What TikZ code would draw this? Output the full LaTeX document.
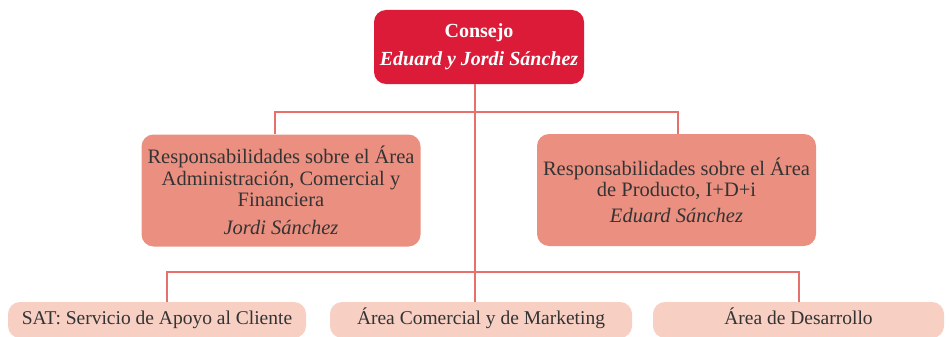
\documentclass[tikz,border=0pt]{standalone}
\usepackage{fontspec}
\setmainfont{Liberation Serif}
\usetikzlibrary{positioning}

\definecolor{consejored}{HTML}{DC1B38}
\definecolor{areasalmon}{HTML}{EB9080}
\definecolor{deptpink}{HTML}{F7CFC3}
\definecolor{linkred}{HTML}{E8706A}
\definecolor{inkgray}{HTML}{333333}

\begin{document}
\begin{tikzpicture}[
    x=1pt,y=-1pt,
    box/.style={rounded corners=12pt,inner sep=0pt,align=center,
        text=inkgray,font=\fontsize{20.5}{21.5}\selectfont},
    topbox/.style={box,fill=consejored,text=white,
        font=\fontsize{20}{28}\selectfont,
        minimum width=210pt,minimum height=74pt},
    areabox/.style={box,fill=areasalmon,
        minimum width=279pt,minimum height=112pt},
    deptbox/.style={box,fill=deptpink,font=\fontsize{19.5}{21.5}\selectfont,
        text height=13pt,text depth=4pt,minimum height=36pt},
    link/.style={linkred,line width=2.5pt}
]
    \clip (0,0) rectangle (950,337);
    \useasboundingbox (0,0) rectangle (950,337);

    \node[topbox] (consejo) at (479,47)
        {\textbf{Consejo}\\\textbf{\itshape Eduard y Jordi Sánchez}};

    \node[areabox] (admin) at (281,190.5)
        {Responsabilidades sobre el Área\\Administración, Comercial y\\Financiera\\[6pt]\itshape Jordi Sánchez};
    \node[areabox] (producto) at (676.5,190)
        {Responsabilidades sobre el Área\\de Producto, I+D+i\\[4pt]\itshape Eduard Sánchez};

    \node[deptbox,minimum width=298pt] (sat) at (157,320) {SAT: Servicio de Apoyo al Cliente};
    \node[deptbox,minimum width=302pt] (comercial) at (481,320) {Área Comercial y de Marketing};
    \node[deptbox,minimum width=291pt] (desarrollo) at (798.5,320) {Área de Desarrollo};

    % trunk and branches
    \coordinate (upper) at (475,112);
    \coordinate (lower) at (475,272);
    \draw[link] (consejo.south -| upper) -- (upper) -- (lower) -- (comercial.north -| lower);
    \draw[link] (admin.north -| 275,0) |- (upper) -| (producto.north -| 678,0);
    \draw[link] (sat.north -| 167,0) |- (lower) -| (desarrollo.north -| 799,0);
\end{tikzpicture}
\end{document}
